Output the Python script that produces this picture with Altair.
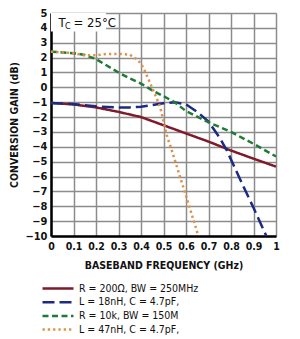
import altair as alt
import pandas as pd

# ---- data ----
series_names = ["R = 200Ω, BW = 250MHz", "L = 18nH, C = 4.7pF,",
                "R = 10k, BW = 150M", "L = 47nH, C = 4.7pF,"]
series_colors = ["#7d1a2c", "#1c2a80", "#1f7a35", "#e0924a"]
series_dashes = [[1, 0], [12, 5], [6, 3.5], [2.3, 3]]

red_x = [0, 0.1, 0.2, 0.3, 0.4, 0.5, 0.6, 0.7, 0.8, 0.9, 1.0]
red_y = [-1.05, -1.15, -1.35, -1.65, -2.0, -2.55, -3.1, -3.65, -4.25, -4.8, -5.33]

blue_x = [0, 0.1, 0.2, 0.3, 0.35, 0.4, 0.45, 0.5, 0.55, 0.6, 0.65, 0.7, 0.75,
          0.78, 0.85, 0.9, 0.957]
blue_y = [-1.05, -1.12, -1.28, -1.35, -1.35, -1.3, -1.2, -1.07, -1.0, -1.15,
          -1.65, -2.3, -3.4, -4.2, -6.5, -8.1, -10.0]

green_x = [0, 0.1, 0.15, 0.2, 0.25, 0.3, 0.35, 0.4, 0.45, 0.5, 0.55, 0.6, 0.7,
           0.8, 0.9, 1.0]
green_y = [2.4, 2.3, 2.18, 1.9, 1.45, 1.0, 0.6, 0.25, -0.2, -0.6, -1.0, -1.6,
           -2.35, -3.0, -3.8, -4.65]

orange_x = [0, 0.1, 0.15, 0.2, 0.25, 0.3, 0.35, 0.38, 0.4, 0.42, 0.44, 0.46,
            0.485, 0.514, 0.536, 0.6, 0.655]
orange_y = [2.4, 2.3, 2.15, 2.15, 2.25, 2.25, 2.2, 1.9, 1.6, 1.0, 0.3, -0.4,
            -1.3, -3.2, -4.2, -7.3, -10.0]

x_ticks = [0, 0.1, 0.2, 0.3, 0.4, 0.5, 0.6, 0.7, 0.8, 0.9, 1.0]
y_ticks = list(range(-10, 6))

x_title = "BASEBAND FREQUENCY (GHz)"
y_title = "CONVERSION GAIN (dB)"

# annotation (T_C = 25°C)
ann_box = pd.DataFrame({"freq": [0.0], "x2": [0.245], "gain": [3.75], "y2": [5.0]})
ann_T = pd.DataFrame({"freq": [0.033], "gain": [4.3], "t": ["T"]})
ann_C = pd.DataFrame({"freq": [0.062], "gain": [4.12], "t": ["C"]})
ann_rest = pd.DataFrame({"freq": [0.1], "gain": [4.3], "t": ["= 25°C"]})

FONT = "Liberation Sans Narrow, DejaVu Sans Condensed, Liberation Sans, sans-serif"

rows = []
for name, xs, ys in zip(series_names,
                        [red_x, blue_x, green_x, orange_x],
                        [red_y, blue_y, green_y, orange_y]):
    for i, (xv, yv) in enumerate(zip(xs, ys)):
        rows.append({"series": name, "freq": xv, "gain": yv, "idx": i})
df = pd.DataFrame(rows)

legend = alt.Legend(
    orient="none", legendX=-10, legendY=270, title=None,
    symbolType="stroke", symbolSize=961, symbolStrokeWidth=2.5,
    labelFont=FONT, labelFontSize=10.5, labelColor="#111",
    clipHeight=11, rowPadding=2.7, padding=0, labelOffset=4,
    direction="vertical",
)

xscale = alt.Scale(domain=[0, 1], nice=False, zero=False)
yscale = alt.Scale(domain=[-10, 5], nice=False, zero=False)

xaxis = alt.Axis(values=x_ticks, format="~g", labelFont=FONT,
                 labelFontSize=10.5, labelFontWeight="bold",
                 labelColor="#111", labelPadding=5, ticks=False,
                 labelOverlap=False, labelFlush=False,
                 domainColor="#000", domainWidth=2.5,
                 gridColor="#8c8c8c", gridWidth=1.5,
                 titleFont=FONT, titleFontSize=10.5,
                 titleFontWeight="bold", titleColor="#111",
                 titleY=29, titleBaseline="middle")
yaxis = alt.Axis(values=y_ticks, labelFont=FONT, labelFontSize=11,
                 labelFontWeight="bold", labelColor="#111",
                 labelOverlap=False, labelFlush=False,
                 labelPadding=4, ticks=False, domainColor="#000",
                 domainWidth=2.5, gridColor="#8c8c8c", gridWidth=1.5,
                 titleFont=FONT, titleFontSize=10.5,
                 titleFontWeight="bold", titleColor="#111",
                 titleX=-37, titleY=111.5, titleBaseline="middle",
                 titleAlign="center", titleAngle=270)

X = alt.X("freq:Q", scale=xscale, title=x_title, axis=xaxis)
Y = alt.Y("gain:Q", scale=yscale, title=y_title, axis=yaxis)

lines = alt.Chart(df).mark_line(strokeWidth=2.5, clip=True).encode(
    x=X, y=Y,
    color=alt.Color("series:N",
                    scale=alt.Scale(domain=series_names, range=series_colors),
                    legend=legend),
    strokeDash=alt.StrokeDash("series:N",
                              scale=alt.Scale(domain=series_names,
                                              range=series_dashes),
                              legend=legend),
    order=alt.Order("idx:Q"),
    detail="series:N",
)

box = alt.Chart(ann_box).mark_rect(color="white").encode(
    x=X, x2="x2:Q", y=Y, y2="y2:Q")
tT = alt.Chart(ann_T).mark_text(align="left", baseline="middle", font=FONT,
                                fontSize=13, color="#111").encode(
    x=X, y=Y, text="t:N")
tC = alt.Chart(ann_C).mark_text(align="left", baseline="middle", font=FONT,
                                fontSize=9, color="#111").encode(
    x=X, y=Y, text="t:N")
tR = alt.Chart(ann_rest).mark_text(align="left", baseline="middle", font=FONT,
                                   fontSize=13, color="#111").encode(
    x=X, y=Y, text="t:N")

chart = alt.layer(lines, box, tT, tC, tR).properties(
    width=225, height=223, autosize="none",
    padding={"left": 51, "top": 13, "right": 24, "bottom": 103},
).configure_view(stroke="#555", strokeWidth=2).configure(background="white")

chart.save("out.html", embed_options={"renderer": "svg", "actions": False})
